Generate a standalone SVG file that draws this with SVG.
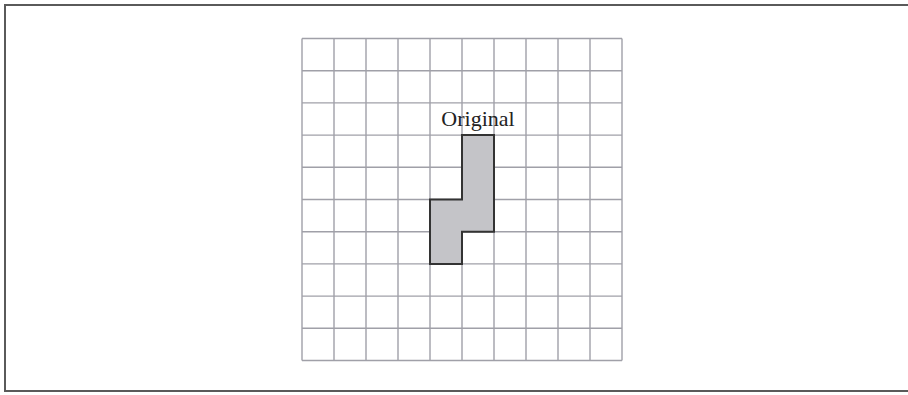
<svg xmlns="http://www.w3.org/2000/svg" width="908" height="395" viewBox="0 0 908 395">
<style>
.frame{fill:none;stroke:#5a5a5a;stroke-width:2}
.grid line{stroke:#a0a0a8;stroke-width:1.4}
.shape{fill:#c4c4c8;stroke:#333;stroke-width:2}
.lbl{font-family:"Liberation Serif",serif;font-size:22px;fill:#222}
</style>
<rect width="908" height="395" fill="#fff"/>
<path class="frame" d="M920,5 H5 V391 H920"/>
<g id="grid" class="grid">
<line x1="302" y1="38.5" x2="302" y2="360.5"/>
<line x1="334" y1="38.5" x2="334" y2="360.5"/>
<line x1="366" y1="38.5" x2="366" y2="360.5"/>
<line x1="398" y1="38.5" x2="398" y2="360.5"/>
<line x1="430" y1="38.5" x2="430" y2="360.5"/>
<line x1="462" y1="38.5" x2="462" y2="360.5"/>
<line x1="494" y1="38.5" x2="494" y2="360.5"/>
<line x1="526" y1="38.5" x2="526" y2="360.5"/>
<line x1="558" y1="38.5" x2="558" y2="360.5"/>
<line x1="590" y1="38.5" x2="590" y2="360.5"/>
<line x1="622" y1="38.5" x2="622" y2="360.5"/>
<line x1="302" y1="38.5" x2="622" y2="38.5"/>
<line x1="302" y1="70.7" x2="622" y2="70.7"/>
<line x1="302" y1="102.9" x2="622" y2="102.9"/>
<line x1="302" y1="135.1" x2="622" y2="135.1"/>
<line x1="302" y1="167.3" x2="622" y2="167.3"/>
<line x1="302" y1="199.5" x2="622" y2="199.5"/>
<line x1="302" y1="231.7" x2="622" y2="231.7"/>
<line x1="302" y1="263.9" x2="622" y2="263.9"/>
<line x1="302" y1="296.1" x2="622" y2="296.1"/>
<line x1="302" y1="328.3" x2="622" y2="328.3"/>
<line x1="302" y1="360.5" x2="622" y2="360.5"/>
</g>
<g id="original">
<polygon class="shape" points="462,135.1 494,135.1 494,231.7 462,231.7 462,263.9 430,263.9 430,199.5 462,199.5"/>
<text class="lbl" x="478" y="126" text-anchor="middle">Original</text>
</g>
</svg>
